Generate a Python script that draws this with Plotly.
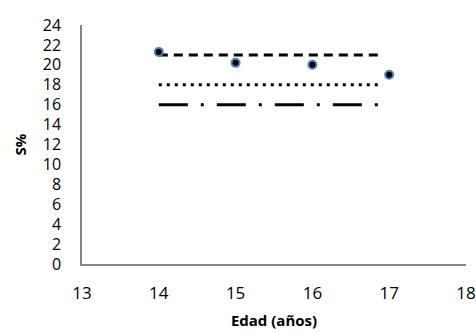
import plotly.graph_objects as go

edad = [14, 15, 16, 17]
s_pct = [21.3, 20.2, 20.0, 19.0]
line_x = [14, 16.9]
ref_upper = [21, 21]
ref_mid = [18, 18]
ref_lower = [16, 16]
y_ticks = list(range(0, 25, 2))
x_ticks = [13, 14, 15, 16, 17, 18]

fig = go.Figure()
fig.add_trace(go.Scatter(x=line_x, y=ref_upper, mode="lines",
                         line=dict(color="black", width=3, dash="9px,6px")))
fig.add_trace(go.Scatter(x=line_x, y=ref_mid, mode="lines",
                         line=dict(color="black", width=3, dash="3px,5px")))
fig.add_trace(go.Scatter(x=line_x, y=ref_lower, mode="lines",
                         line=dict(color="black", width=3, dash="29px,13px,3px,13px")))
fig.add_trace(go.Scatter(x=edad, y=s_pct, mode="markers",
                         marker=dict(color="black", size=8,
                                     line=dict(color="#4F81BD", width=2))))

font = "Open Sans, Liberation Sans, Arial, sans-serif"
fig.update_layout(
    width=476, height=333,
    margin=dict(l=82, r=10, t=25, b=69),
    paper_bgcolor="white", plot_bgcolor="white",
    showlegend=False,
    font=dict(family=font, size=16, color="black"),
    xaxis=dict(range=[13, 18], tickvals=x_ticks, showgrid=False, zeroline=False,
               automargin=False,
               showline=True, linecolor="#868686", linewidth=1.5,
               ticks="outside", ticklen=13, tickcolor="rgba(0,0,0,0)",
               tickfont=dict(size=17),
               title=dict(text="<b>Edad (años)</b>", font=dict(size=15), standoff=12)),
    yaxis=dict(range=[0, 24], tickvals=y_ticks, showgrid=False, zeroline=False,
               automargin=False,
               showline=True, linecolor="#868686", linewidth=1.5,
               ticks="outside", ticklen=16, tickcolor="rgba(0,0,0,0)",
               tickfont=dict(size=16),
               title=dict(text="<b>S%</b>", font=dict(size=15), standoff=13)),
)
fig.write_html("out.html", config={"displayModeBar": False},
               post_script="document.body.style.margin='0';document.body.style.overflow='hidden';")
